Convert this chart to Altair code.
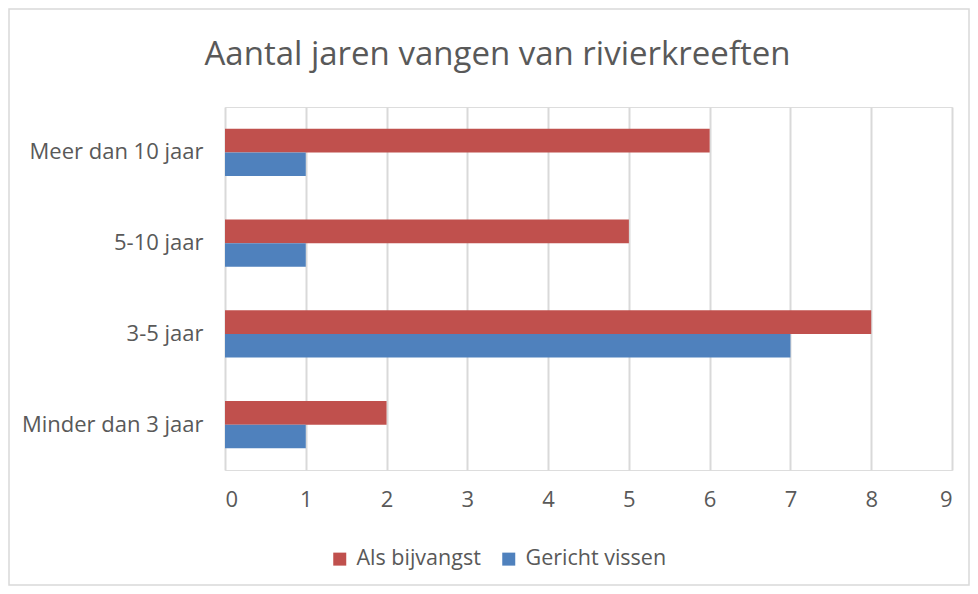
import altair as alt
import pandas as pd

categories = ["Meer dan 10 jaar", "5-10 jaar", "3-5 jaar", "Minder dan 3 jaar"]
series_names = ["Als bijvangst", "Gericht vissen"]
als_bijvangst = [6, 5, 8, 2]
gericht_vissen = [1, 1, 7, 1]
colors = ["#C0504D", "#4F81BD"]
x_ticks = list(range(0, 10))

rows = []
for c, a, g in zip(categories, als_bijvangst, gericht_vissen):
    rows.append({"cat": c, "series": series_names[0], "value": a})
    rows.append({"cat": c, "series": series_names[1], "value": g})
df = pd.DataFrame(rows)

FONT = "Open Sans"
W, H = 727, 363
PL, PT = 217, 99
LFS = 22

bars = alt.Chart(df).mark_bar(opacity=1).encode(
    x=alt.X("value:Q", scale=alt.Scale(domain=[0, 9], nice=False),
            axis=alt.Axis(values=x_ticks, title=None, domain=False, ticks=False,
                          grid=True, gridColor="#d9d9d9", gridWidth=2,
                          labelFont=FONT, labelFontSize=LFS, labelColor="#595959",
                          labelPadding=19)),
    y=alt.Y("cat:N", sort=categories, scale=alt.Scale(paddingInner=0.48, paddingOuter=0.24),
            axis=alt.Axis(title=None, domain=False, ticks=False, grid=False,
                          labelFont=FONT, labelFontSize=LFS, labelColor="#595959",
                          labelPadding=22, labelLimit=400)),
    yOffset=alt.YOffset("series:N", sort=series_names, scale=alt.Scale(paddingInner=0, paddingOuter=0)),
    color=alt.Color("series:N", sort=series_names,
                    scale=alt.Scale(domain=series_names, range=colors),
                    legend=alt.Legend(title=None, orient="none", direction="horizontal",
                                      legendX=104, legendY=441, symbolType="square",
                                      symbolSize=169, symbolStrokeWidth=0,
                                      labelFont=FONT, labelFontSize=21.5, labelColor="#595959",
                                      columnPadding=17, labelOffset=6, labelLimit=400)),
)

border = alt.Chart(pd.DataFrame({"k": [0]})).mark_rect(
    fill=None, stroke="#d9d9d9", strokeWidth=1.5
).encode(
    x=alt.value(-PL + 1), x2=alt.value(W + 18 - 1),
    y=alt.value(-PT + 1), y2=alt.value(H + 116 - 1),
)

chart = alt.layer(border, bars).properties(
    width=W, height=H,
    autosize=alt.AutoSizeParams(type="none"),
    padding={"left": PL, "top": PT, "right": 18, "bottom": 116},
    title=alt.Title("Aantal jaren vangen van rivierkreeften", anchor="middle", frame="group",
                    dx=-91, offset=-64, font=FONT, fontSize=33, fontWeight="normal",
                    color="#595959"),
).configure_view(stroke=None).configure(background="white")

chart.save("out.html", embed_options={"renderer": "svg", "actions": False})
